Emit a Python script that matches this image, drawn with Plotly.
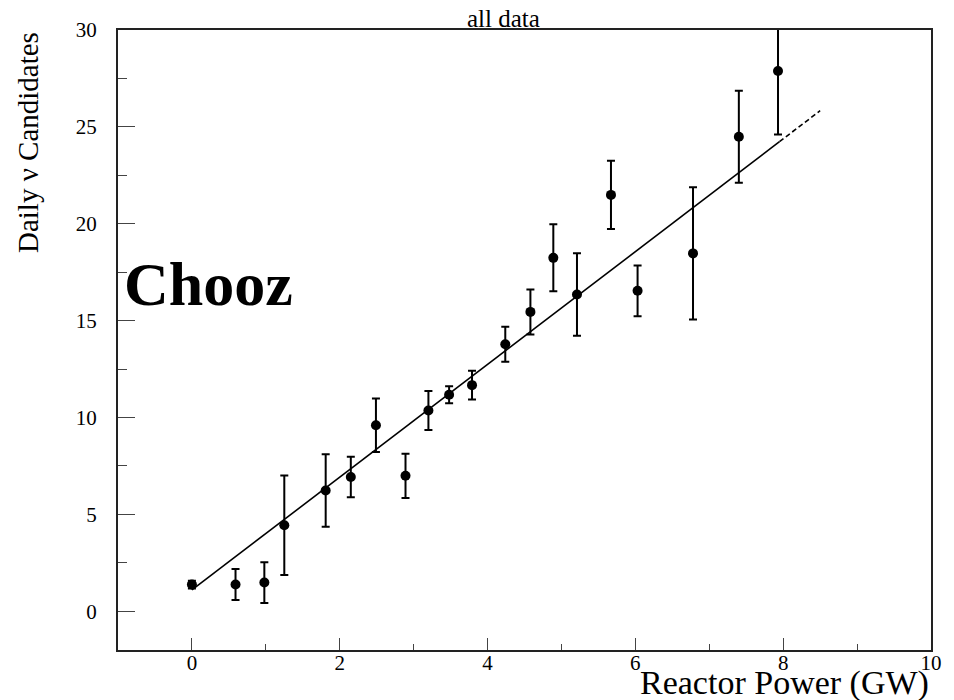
import plotly.graph_objects as go

# Data
power = [0.0, 0.59, 0.98, 1.25, 1.81, 2.15, 2.49, 2.89, 3.20, 3.48,
         3.79, 4.24, 4.58, 4.89, 5.21, 5.67, 6.03, 6.78, 7.40, 7.93]
candidates = [1.38, 1.38, 1.48, 4.44, 6.23, 6.93, 9.60, 6.99, 10.36, 11.17,
              11.67, 13.78, 15.45, 18.24, 16.35, 21.49, 16.54, 18.47, 24.49, 27.88]
errors = [0.2, 0.8, 1.05, 2.57, 1.87, 1.04, 1.38, 1.14, 1.01, 0.44,
          0.74, 0.9, 1.16, 1.73, 2.13, 1.76, 1.31, 3.41, 2.38, 3.27]

# Linear fit parameters
fit_intercept = 1.1
fit_slope = 2.91
fit_solid = [0.0, 7.95]
fit_dashed = [7.95, 8.5]

x_ticks = [0, 2, 4, 6, 8, 10]
y_ticks = [0, 5, 10, 15, 20, 25, 30]

fig = go.Figure()

fig.add_trace(go.Scatter(
    x=fit_solid, y=[fit_intercept + fit_slope * p for p in fit_solid],
    mode="lines", line=dict(color="black", width=1.6), showlegend=False,
    hoverinfo="skip"))
fig.add_trace(go.Scatter(
    x=fit_dashed, y=[fit_intercept + fit_slope * p for p in fit_dashed],
    mode="lines", line=dict(color="black", width=1.6, dash="5px,3px"),
    showlegend=False, hoverinfo="skip"))

fig.add_trace(go.Scatter(
    x=power, y=candidates, mode="markers",
    marker=dict(color="black", size=10, symbol="circle"),
    error_y=dict(type="data", array=errors, visible=True,
                 color="black", thickness=2, width=4),
    showlegend=False))

tick_font = dict(family="Liberation Serif", size=21, color="black")

fig.update_xaxes(
    range=[-1, 10], tickvals=x_ticks, ticktext=[str(v) for v in x_ticks],
    ticks="inside", ticklen=12, tickwidth=1.2, tickcolor="#444",
    minor=dict(dtick=1, tick0=0, ticks="inside", ticklen=6, tickwidth=1.2, tickcolor="#444"),
    showline=True, linecolor="#222", linewidth=2, mirror=True,
    showgrid=False, zeroline=False, tickfont=tick_font, ticklabelstandoff=-7)
fig.update_yaxes(
    range=[-2, 30], tickvals=y_ticks, ticktext=[str(v) for v in y_ticks],
    ticks="inside", ticklen=17, tickwidth=1.2, tickcolor="#444",
    minor=dict(dtick=2.5, tick0=0, ticks="inside", ticklen=9, tickwidth=1.2, tickcolor="#444"),
    showline=True, linecolor="#222", linewidth=2, mirror=True,
    showgrid=False, zeroline=False, tickfont=tick_font, ticklabelstandoff=15)

fig.add_annotation(text="all data", xref="paper", yref="paper",
                   x=(503 - 118) / 813, y=1 + (30 - 19) / 620,
                   xanchor="center", yanchor="middle", showarrow=False,
                   font=dict(family="Liberation Serif", size=25, color="black"))
fig.add_annotation(text="Reactor Power (GW)", xref="paper", yref="paper",
                   x=(931 - 118) / 813, y=-(683 - 650) / 620,
                   xanchor="right", yanchor="middle", showarrow=False,
                   font=dict(family="Liberation Serif", size=34, color="black"))
fig.add_annotation(text="Daily ν Candidates", xref="paper", yref="paper",
                   x=-(118 - 28) / 813, y=1 - (143 - 30) / 620,
                   xanchor="center", yanchor="middle", textangle=-90, showarrow=False,
                   font=dict(family="Liberation Serif", size=29, color="black"))
fig.add_annotation(text="<b>Chooz</b>", xref="paper", yref="paper",
                   x=(122 - 118) / 813, y=1 - (284 - 30) / 620,
                   xanchor="left", yanchor="middle", showarrow=False,
                   font=dict(family="Liberation Serif", size=62, color="black"))

fig.update_layout(
    width=954, height=700,
    margin=dict(l=118, r=23, t=30, b=50),
    paper_bgcolor="white", plot_bgcolor="white",
)

fig.write_html("out.html")
